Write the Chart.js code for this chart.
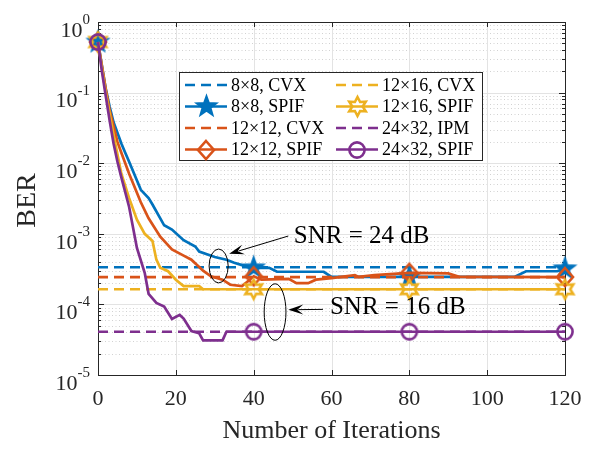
<!DOCTYPE html>
<html>
<head>
<meta charset="utf-8">
<script src="https://cdn.jsdelivr.net/npm/chart.js@4/dist/chart.umd.min.js"></script>
<style>
  html, body { margin: 0; padding: 0; background: #fff; }
</style>
</head>
<body>
<canvas id="berChart" width="592" height="450"></canvas>
<script>
// BER vs. number of iterations: SPIF detector against CVX / IPM baselines
const legendLabels = ['8×8, CVX', '8×8, SPIF', '12×12, CVX', '12×12, SPIF',
                      '12×16, CVX', '12×16, SPIF', '24×32, IPM', '24×32, SPIF'];
const xTicks = [0, 20, 40, 60, 80, 100, 120];
const yExponents = [0, -1, -2, -3, -4, -5];
const markerIters = [0, 40, 80, 120];

// baseline detectors (flat levels)
const berCvx8 = 3.36e-4;
const berCvx12 = 2.44e-4;
const berCvx16 = 1.64e-4;
const berIpm24 = 4.1e-5;

// SPIF convergence
const iterSpif8 = [0, 1, 2, 3, 4, 6, 7, 8, 11, 13, 14, 17, 19, 22, 25, 26, 30, 33, 35, 37, 40, 44, 46, 58, 60, 80, 107, 110, 118, 120];
const berSpif8 = [0.52, 0.24, 0.112, 0.063, 0.038, 0.019, 0.0141, 0.0105, 0.0042, 0.0032, 0.0026, 0.00132, 0.00115, 8.1e-4, 6.6e-4, 5.6e-4,
                  4.7e-4, 4.3e-4, 3.9e-4, 3.6e-4, 3.3e-4, 3.3e-4, 2.9e-4, 2.9e-4, 2.45e-4, 2.45e-4, 2.45e-4, 2.95e-4, 2.95e-4, 3.2e-4];

const iterSpif12 = [0, 1, 2, 3, 5, 6, 8, 11, 13, 16, 19, 22, 24, 27, 29, 32, 34, 37, 39, 40, 42, 49, 51, 54, 56, 60, 66, 67, 71, 80, 90, 93, 120];
const berSpif12 = [0.52, 0.24, 0.112, 0.056, 0.020, 0.0141, 0.0071, 0.0028, 0.00166, 9.1e-4, 6.0e-4, 4.9e-4, 4.3e-4, 3.0e-4, 2.5e-4, 2.24e-4,
                   1.9e-4, 1.82e-4, 2.24e-4, 2.5e-4, 2.24e-4, 2.3e-4, 2.0e-4, 2.0e-4, 2.24e-4, 2.35e-4, 2.6e-4, 2.45e-4, 2.6e-4,
                   2.8e-4, 2.75e-4, 2.45e-4, 2.44e-4];

const iterSpif16 = [0, 1, 2, 3, 4, 6, 8, 10, 12, 14, 15, 16, 18, 20, 22, 26, 27, 40, 80, 120];
const berSpif16 = [0.52, 0.224, 0.1, 0.05, 0.025, 0.0071, 0.0032, 0.00158, 0.001, 7.9e-4, 4.3e-4, 3.3e-4, 2.95e-4, 2.24e-4, 1.82e-4,
                   1.82e-4, 1.64e-4, 1.64e-4, 1.64e-4, 1.64e-4];

const iterSpif24 = [0, 1, 2, 3, 4, 5, 6, 8, 10, 12, 13, 15, 17, 19, 21, 22, 24, 26, 27, 32, 33, 40, 80, 120];
const berSpif24 = [0.52, 0.2, 0.089, 0.04, 0.019, 0.0105, 0.0063, 0.0024, 6.3e-4, 2.8e-4, 1.41e-4, 1.05e-4, 9.3e-5, 6.2e-5, 7.1e-5, 6.3e-5,
                   4.2e-5, 3.9e-5, 3.1e-5, 3.1e-5, 4.1e-5, 4.1e-5, 4.1e-5, 4.1e-5];

const blue = '#0072BD', orange = '#D95319', yellow = '#EDB120', purple = '#7E2F8E';
const serif = "'Liberation Serif', 'Times New Roman', serif";
const lineW = 2.7;

function pts(xs, ys) { return xs.map((x, i) => ({ x: x, y: ys[i] })); }
function flat(v) { return [{ x: 0, y: v }, { x: 120, y: v }]; }

// marker outlines drawn onto small canvases, used as pointStyle images
function markerCanvas(r, draw) {
  const size = Math.ceil(2 * (r + 3));
  const c = document.createElement('canvas');
  c.width = size; c.height = size;
  const g = c.getContext('2d');
  draw(g, size / 2);
  return c;
}
function starPath(g, c, n, outer, inner) {
  g.beginPath();
  for (let i = 0; i < 2 * n; i++) {
    const r = i % 2 ? inner : outer;
    const a = -Math.PI / 2 + i * Math.PI / n;
    const px = c + r * Math.cos(a), py = c + r * Math.sin(a);
    i ? g.lineTo(px, py) : g.moveTo(px, py);
  }
  g.closePath();
}
const pentagram = markerCanvas(10.5, (g, c) => {
  starPath(g, c, 5, 10.5, 4.3);
  g.fillStyle = blue; g.fill();
  g.lineWidth = 1.8; g.strokeStyle = blue; g.stroke();
});
const hexagram = markerCanvas(9.5, (g, c) => {
  starPath(g, c, 6, 9.5, 5.2);
  g.lineWidth = 2.6; g.strokeStyle = yellow; g.stroke();
});
const diamond = markerCanvas(9, (g, c) => {
  g.beginPath();
  g.moveTo(c, c - 9); g.lineTo(c + 8, c); g.lineTo(c, c + 9); g.lineTo(c - 8, c); g.closePath();
  g.lineWidth = 2.6; g.strokeStyle = orange; g.stroke();
});
const ring = markerCanvas(8, (g, c) => {
  g.beginPath(); g.arc(c, c, 7.6, 0, 2 * Math.PI);
  g.lineWidth = 2.6; g.strokeStyle = purple; g.stroke();
});

function dashed(label, v, color) {
  return { label: label, data: flat(v), borderColor: color, borderWidth: lineW, borderDash: [10, 6],
           pointRadius: 0, fill: false };
}
function solid(label, data, color, marker) {
  return { label: label, data: data, borderColor: color, borderWidth: lineW, fill: false,
           pointStyle: marker, marker: marker,
           pointRadius: ctx => (ctx.raw && markerIters.includes(ctx.raw.x)) ? 8 : 0 };
}

const datasets = [
  dashed(legendLabels[0], berCvx8, blue),
  solid(legendLabels[1], pts(iterSpif8, berSpif8), blue, pentagram),
  dashed(legendLabels[2], berCvx12, orange),
  solid(legendLabels[3], pts(iterSpif12, berSpif12), orange, diamond),
  dashed(legendLabels[4], berCvx16, yellow),
  solid(legendLabels[5], pts(iterSpif16, berSpif16), yellow, hexagram),
  dashed(legendLabels[6], berIpm24, purple),
  solid(legendLabels[7], pts(iterSpif24, berSpif24), purple, ring)
];
// later series sit on top
datasets.forEach((d, i) => { d.order = datasets.length - i; d.clip = false; });

// grid, box, ticks and tick labels
const axesPlugin = {
  id: 'axesFrame',
  beforeDatasetsDraw(chart) {
    const { ctx, chartArea: a, scales: { x, y } } = chart;
    ctx.save();
    // minor grid (dotted)
    ctx.strokeStyle = '#d2d2d2';
    ctx.lineWidth = 1;
    ctx.setLineDash([1, 2.5]);
    for (let d = -5; d < 0; d++) {
      for (let m = 2; m <= 9; m++) {
        const py = Math.round(y.getPixelForValue(m * Math.pow(10, d))) + 0.5;
        ctx.beginPath(); ctx.moveTo(a.left, py); ctx.lineTo(a.right, py); ctx.stroke();
      }
    }
    ctx.setLineDash([]);
    // major grid
    ctx.strokeStyle = '#e3e3e3';
    xTicks.forEach(t => {
      const px = Math.round(x.getPixelForValue(t)) + 0.5;
      ctx.beginPath(); ctx.moveTo(px, a.top); ctx.lineTo(px, a.bottom); ctx.stroke();
    });
    yExponents.forEach(e => {
      const py = Math.round(y.getPixelForValue(Math.pow(10, e))) + 0.5;
      ctx.beginPath(); ctx.moveTo(a.left, py); ctx.lineTo(a.right, py); ctx.stroke();
    });
    // box
    ctx.strokeStyle = '#262626';
    ctx.strokeRect(Math.round(a.left) + 0.5, Math.round(a.top) + 0.5,
                   Math.round(a.right - a.left), Math.round(a.bottom - a.top));
    // ticks
    ctx.beginPath();
    xTicks.forEach(t => {
      const px = Math.round(x.getPixelForValue(t)) + 0.5;
      ctx.moveTo(px, a.bottom); ctx.lineTo(px, a.bottom - 5);
      ctx.moveTo(px, a.top); ctx.lineTo(px, a.top + 5);
    });
    for (let d = -5; d <= 0; d++) {
      for (let m = 1; m <= 9; m++) {
        if (d === 0 && m > 1) break;
        const py = Math.round(y.getPixelForValue(m * Math.pow(10, d))) + 0.5;
        const len = m === 1 ? 6 : 3;
        ctx.moveTo(a.left, py); ctx.lineTo(a.left + len, py);
        ctx.moveTo(a.right, py); ctx.lineTo(a.right - len, py);
      }
    }
    ctx.stroke();

    // tick labels
    ctx.fillStyle = '#262626';
    ctx.font = '22px ' + serif;
    ctx.textAlign = 'center';
    ctx.textBaseline = 'middle';
    xTicks.forEach(t => ctx.fillText(String(t), x.getPixelForValue(t), a.bottom + 24));
    yExponents.forEach(e => {
      const py = y.getPixelForValue(Math.pow(10, e));
      const ex = e === 0 ? '0' : '-' + Math.abs(e);
      ctx.font = '15px ' + serif;
      const wE = ctx.measureText(ex).width;
      ctx.font = '22px ' + serif;
      const wB = ctx.measureText('10').width;
      const right = a.left - 8;
      ctx.textAlign = 'left';
      ctx.fillText('10', right - wE - wB, py + 9);
      ctx.font = '15px ' + serif;
      ctx.fillText(ex, right - wE, py - 2);
    });

    // axis titles
    ctx.font = '26px ' + serif;
    ctx.textAlign = 'center';
    ctx.fillText('Number of Iterations', (a.left + a.right) / 2, a.bottom + 56);
    ctx.save();
    ctx.translate(28, (a.top + a.bottom) / 2 + 2);
    ctx.rotate(-Math.PI / 2);
    ctx.font = '28px ' + serif;
    ctx.fillText('BER', 0, 0);
    ctx.restore();
    ctx.restore();
  }
};

// ellipse + arrow annotations, in data coordinates
const notes = [
  { text: 'SNR = 24 dB', cx: 31, cy: 3.5e-4, rx: 2.45, rDec: 0.24,
    from: { x: 48.9, y: 9.3e-4 }, to: { x: 33.7, y: 5.2e-4 }, tx: 50.3, ty: 9.1e-4 },
  { text: 'SNR = 16 dB', cx: 45.5, cy: 7.8e-5, rx: 2.8, rDec: 0.4,
    from: { x: 57.8, y: 8.5e-5 }, to: { x: 48.9, y: 8.4e-5 }, tx: 59.6, ty: 9.0e-5 }
];

const overlayPlugin = {
  id: 'overlay',
  afterDatasetsDraw(chart) {
    const { ctx, scales: { x, y } } = chart;
    ctx.save();
    ctx.strokeStyle = '#000';
    ctx.fillStyle = '#000';
    ctx.lineWidth = 1;
    notes.forEach(n => {
      const cx = x.getPixelForValue(n.cx), cy = y.getPixelForValue(n.cy);
      const rx = x.getPixelForValue(n.cx + n.rx) - cx;
      const ry = cy - y.getPixelForValue(n.cy * Math.pow(10, n.rDec));
      ctx.beginPath(); ctx.ellipse(cx, cy, rx, ry, 0, 0, 2 * Math.PI); ctx.stroke();

      const x0 = x.getPixelForValue(n.from.x), y0 = y.getPixelForValue(n.from.y);
      const x1 = x.getPixelForValue(n.to.x), y1 = y.getPixelForValue(n.to.y);
      const ang = Math.atan2(y1 - y0, x1 - x0);
      const L = 13, W = 5;
      const bx = x1 - L * Math.cos(ang), by = y1 - L * Math.sin(ang);
      ctx.beginPath(); ctx.moveTo(x0, y0); ctx.lineTo(bx + 3 * Math.cos(ang), by + 3 * Math.sin(ang)); ctx.stroke();
      ctx.beginPath();
      ctx.moveTo(x1, y1);
      ctx.lineTo(bx - W * Math.sin(ang) - 2 * Math.cos(ang), by + W * Math.cos(ang) - 2 * Math.sin(ang));
      ctx.lineTo(bx + 4 * Math.cos(ang), by + 4 * Math.sin(ang));
      ctx.lineTo(bx + W * Math.sin(ang) - 2 * Math.cos(ang), by - W * Math.cos(ang) - 2 * Math.sin(ang));
      ctx.closePath(); ctx.fill();

      ctx.font = '25px ' + serif;
      ctx.textAlign = 'left';
      ctx.textBaseline = 'middle';
      ctx.fillText(n.text, x.getPixelForValue(n.tx), y.getPixelForValue(n.ty));
    });

    // legend: two columns, four rows
    const box = { l: 179.5, t: 72.5, r: 482.5, b: 160.5 };
    ctx.fillStyle = '#fff';
    ctx.fillRect(box.l, box.t, box.r - box.l, box.b - box.t);
    ctx.strokeStyle = '#262626';
    ctx.strokeRect(box.l, box.t, box.r - box.l, box.b - box.t);
    const cols = [185, 336], rowY = [85, 106.5, 128, 149.5], lineLen = 42;
    chart.data.datasets.forEach((d, i) => {
      const lx = cols[Math.floor(i / 4)], ly = rowY[i % 4];
      ctx.save();
      ctx.strokeStyle = d.borderColor;
      ctx.lineWidth = lineW;
      ctx.setLineDash(d.borderDash || []);
      ctx.beginPath(); ctx.moveTo(lx, ly); ctx.lineTo(lx + lineLen, ly); ctx.stroke();
      ctx.restore();
      if (d.marker) {
        ctx.drawImage(d.marker, Math.round(lx + lineLen / 2 - d.marker.width / 2),
                      Math.round(ly - d.marker.height / 2));
      }
      ctx.fillStyle = '#000';
      ctx.font = '18px ' + serif;
      ctx.textAlign = 'left';
      ctx.textBaseline = 'middle';
      ctx.fillText(d.label, lx + lineLen + 4, ly + 1);
    });
    ctx.restore();
  }
};

new Chart(document.getElementById('berChart'), {
  type: 'line',
  data: { datasets: datasets },
  options: {
    responsive: false,
    animation: false,
    layout: { padding: { left: 98, right: 27, top: 22, bottom: 75 } },
    elements: { line: { tension: 0 } },
    scales: {
      x: { type: 'linear', min: 0, max: 120, display: false },
      y: { type: 'logarithmic', min: 1e-5, max: 1, display: false }
    },
    plugins: { legend: { display: false }, tooltip: { enabled: false } }
  },
  plugins: [axesPlugin, overlayPlugin]
});
</script>
</body>
</html>
